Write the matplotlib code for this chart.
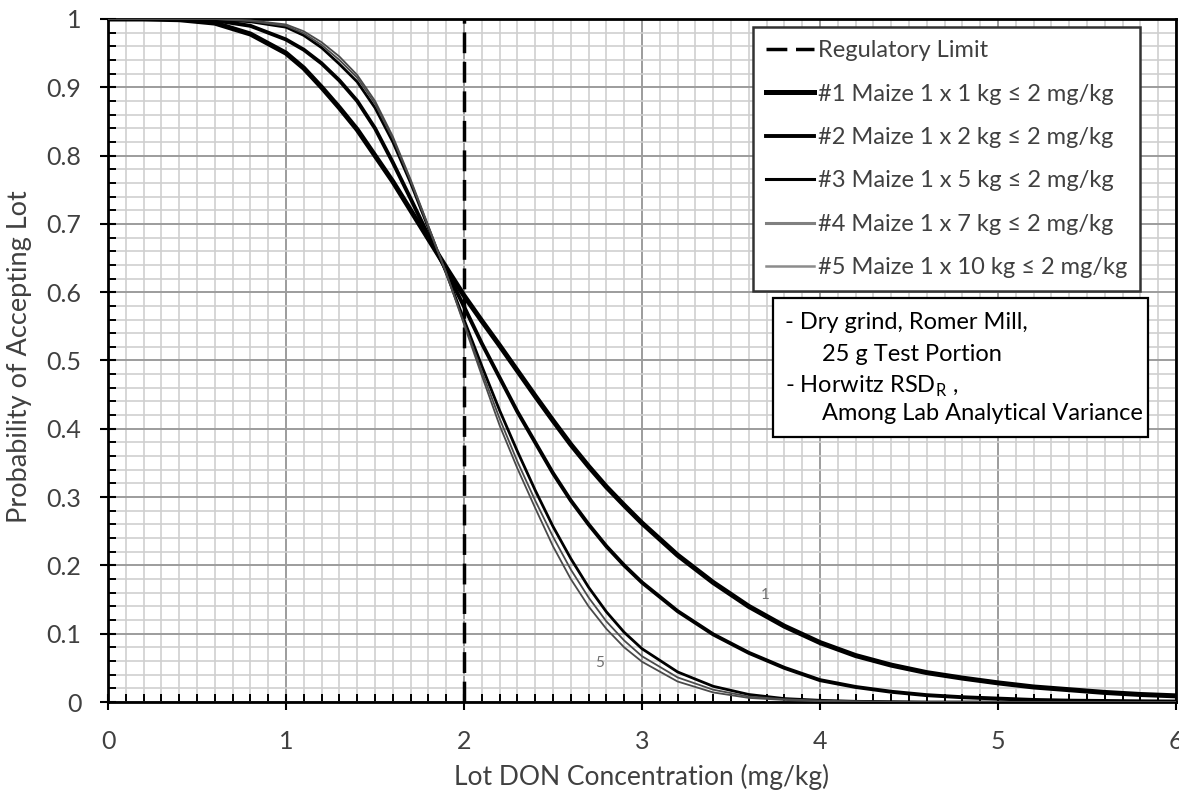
import numpy as np
import matplotlib
matplotlib.use("Agg")
import matplotlib.pyplot as plt
from matplotlib.ticker import MultipleLocator, FuncFormatter
from matplotlib.lines import Line2D
from matplotlib.patches import Rectangle

plt.rcParams['font.family'] = ['Lato', 'DejaVu Sans']

# ---------------- data ----------------
conc = [0, 0.2, 0.4, 0.6, 0.8, 1.0, 1.1, 1.2, 1.3, 1.4, 1.5, 1.6, 1.7, 1.8, 1.9,
        2.0, 2.1, 2.2, 2.3, 2.4, 2.5, 2.6, 2.7, 2.8, 2.9, 3.0, 3.2, 3.4, 3.6, 3.8,
        4.0, 4.2, 4.4, 4.6, 4.8, 5.0, 5.2, 5.4, 5.6, 5.8, 6.0]

p_1kg = [1.0, 1.0, 0.999, 0.994, 0.978, 0.95, 0.928, 0.90, 0.87, 0.838, 0.80, 0.762,
         0.72, 0.678, 0.636, 0.595, 0.558, 0.522, 0.485, 0.448, 0.412, 0.377, 0.345,
         0.315, 0.288, 0.262, 0.215, 0.175, 0.14, 0.111, 0.087, 0.068, 0.054, 0.043,
         0.035, 0.028, 0.022, 0.018, 0.014, 0.011, 0.009]
p_2kg = [1.0, 1.0, 1.0, 0.998, 0.99, 0.97, 0.955, 0.935, 0.91, 0.88, 0.84, 0.79,
         0.737, 0.683, 0.632, 0.579, 0.525, 0.475, 0.425, 0.38, 0.335, 0.295, 0.26,
         0.228, 0.2, 0.175, 0.133, 0.099, 0.072, 0.05, 0.032, 0.022, 0.015, 0.01,
         0.007, 0.005, 0.003, 0.002, 0.0015, 0.001, 0.0007]
p_5kg = [1.0, 1.0, 1.0, 0.999, 0.996, 0.988, 0.976, 0.958, 0.934, 0.908, 0.870, 0.820,
         0.760, 0.694, 0.628, 0.56, 0.492, 0.427, 0.367, 0.31, 0.257, 0.21, 0.168,
         0.132, 0.102, 0.078, 0.044, 0.023, 0.011, 0.005, 0.0025, 0.001, 0.0005, 0,
         0, 0, 0, 0, 0, 0, 0]
p_7kg = [1.0, 1.0, 1.0, 1.0, 0.997, 0.99, 0.979, 0.962, 0.94, 0.914, 0.876, 0.825,
         0.763, 0.695, 0.628, 0.555, 0.484, 0.415, 0.352, 0.295, 0.242, 0.194, 0.153,
         0.118, 0.09, 0.067, 0.036, 0.018, 0.008, 0.004, 0.002, 0.001, 0, 0,
         0, 0, 0, 0, 0, 0, 0]
p_10kg = [1.0, 1.0, 1.0, 1.0, 0.998, 0.992, 0.982, 0.966, 0.945, 0.918, 0.88, 0.828,
          0.765, 0.697, 0.628, 0.553, 0.478, 0.405, 0.342, 0.284, 0.228, 0.18, 0.14,
          0.107, 0.08, 0.059, 0.03, 0.014, 0.006, 0.003, 0.001, 0.0005, 0, 0,
          0, 0, 0, 0, 0, 0, 0]

series_labels = ["#1 Maize 1 x 1 kg \u2264 2 mg/kg",
                 "#2 Maize 1 x 2 kg \u2264 2 mg/kg",
                 "#3 Maize 1 x 5 kg \u2264 2 mg/kg",
                 "#4 Maize 1 x 7 kg \u2264 2 mg/kg",
                 "#5 Maize 1 x 10 kg \u2264 2 mg/kg"]
limit_label = "Regulatory Limit"
regulatory_limit = 2.0

curve_tags = ["1", "5"]
curve_tag_pos = [(3.69, 0.157), (2.76, 0.057)]

note_lines = ["- Dry grind, Romer Mill,", "25 g Test Portion",
              "- Horwitz RSD$_\\mathregular{R}$ ,", "Among Lab Analytical Variance"]

xlabel = "Lot DON Concentration (mg/kg)"
ylabel = "Probability of Accepting Lot"

# ---------------- figure ----------------
W, H = 1179, 796
fig = plt.figure(figsize=(W / 100, H / 100), dpi=100)
L, R, T, B = 108, 1176, 19, 702
ax = fig.add_axes([L / W, 1 - B / H, (R - L) / W, (B - T) / H])

ax.set_xlim(0, 6)
ax.set_ylim(0, 1)
ax.xaxis.set_major_locator(MultipleLocator(1))
ax.xaxis.set_minor_locator(MultipleLocator(0.1))
ax.yaxis.set_major_locator(MultipleLocator(0.1))
ax.yaxis.set_minor_locator(MultipleLocator(0.02))
ax.yaxis.set_major_formatter(FuncFormatter(lambda v, p: f"{round(v, 2):g}"))
ax.xaxis.set_major_formatter(FuncFormatter(lambda v, p: f"{round(v, 2):g}"))

ax.grid(which='minor', color='#cfcfcf', lw=1.2, zorder=0)
ax.grid(which='major', color='#9c9c9c', lw=1.4, zorder=0)
ax.set_axisbelow(True)

ax.tick_params(which='major', direction='inout', length=12, width=1.5,
               labelsize=18, labelcolor='#404040', color='black')
ax.tick_params(axis='y', which='major', pad=13)
ax.tick_params(axis='x', which='major', pad=14)
ax.tick_params(which='minor', direction='in', length=6, width=1.4, color='black')

for s in ax.spines.values():
    s.set_linewidth(2.0)
    s.set_color('black')

ax.set_xlabel(xlabel, fontsize=19, color='#404040')
ax.set_ylabel(ylabel, fontsize=19.5, color='#404040')
ax.xaxis.set_label_coords(0.5, -0.091)
ax.yaxis.set_label_coords(-0.071, 0.505)

# regulatory limit
ax.axvline(regulatory_limit, color='black', lw=2.5, dashes=(6, 2.5), zorder=3)

styles = [dict(color='black', lw=3.6), dict(color='black', lw=2.8),
          dict(color='black', lw=2.0), dict(color='#4a4a4a', lw=1.3),
          dict(color='#4a4a4a', lw=1.3)]
for yv, st in zip([p_1kg, p_2kg, p_5kg, p_7kg, p_10kg], styles):
    ax.plot(conc, yv, solid_capstyle='butt', zorder=4, **st)

for tag, (tx, ty) in zip(curve_tags, curve_tag_pos):
    ax.text(tx, ty, tag, fontsize=11, color='#707070', ha='center', va='center', zorder=4)

# legend
handles = [Line2D([], [], color='black', lw=2.5, dashes=(6, 2.5)),
           Line2D([], [], color='black', lw=3.6),
           Line2D([], [], color='black', lw=2.8),
           Line2D([], [], color='black', lw=2.2),
           Line2D([], [], color='#808080', lw=2.2),
           Line2D([], [], color='#8c8c8c', lw=1.8)]
leg = ax.legend(handles, [limit_label] + series_labels, loc='upper left',
                bbox_to_anchor=(0.604, 0.988), borderaxespad=0, fontsize=17,
                handlelength=2.05, handletextpad=0.15, labelspacing=0.95,
                borderpad=0.55, frameon=True, fancybox=False, framealpha=1,
                labelcolor='#404040')
leg.get_frame().set_edgecolor('#333333')
leg.get_frame().set_linewidth(1.8)
leg.set_zorder(6)

# note box
bx0, bx1, by0, by1 = 0.6227, 0.9738, 0.388, 0.5915
ax.add_patch(Rectangle((bx0, by0), bx1 - bx0, by1 - by0, transform=ax.transAxes,
                       facecolor='white', edgecolor='black', lw=1.6, zorder=6))
line_y = [0.556, 0.509, 0.462, 0.422]
line_x = [0.634, 0.6685, 0.634, 0.6685]
for txt, lx, ly in zip(note_lines, line_x, line_y):
    ax.text(lx, ly, txt, transform=ax.transAxes, fontsize=17, color='black',
            ha='left', va='center', zorder=7)

fig.savefig("out.png", dpi=100)
